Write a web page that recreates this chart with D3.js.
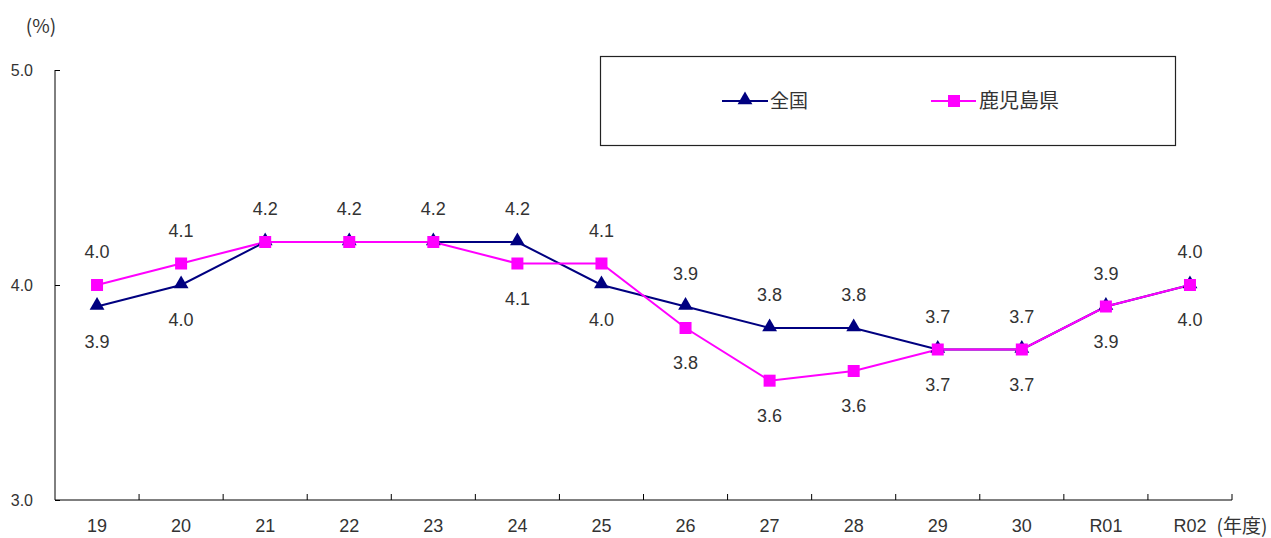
<!DOCTYPE html>
<html>
<head>
<meta charset="utf-8">
<script src="https://cdn.jsdelivr.net/npm/d3@7"></script>
<style>
  body { margin: 0; background: #fff; }
  text { font-family: "Noto Sans CJK JP", "DejaVu Sans", sans-serif; fill: #333; }
</style>
</head>
<body>
<div id="chart"></div>
<script>
// data
var years = ["19", "20", "21", "22", "23", "24", "25", "26", "27", "28", "29", "30", "R01", "R02"];
var zenkoku = [3.9, 4.0, 4.2, 4.2, 4.2, 4.2, 4.0, 3.9, 3.8, 3.8, 3.7, 3.7, 3.9, 4.0];
var kagoshima = [4.0, 4.1, 4.2, 4.2, 4.2, 4.1, 4.1, 3.8, 3.555, 3.6, 3.7, 3.7, 3.9, 4.0];
// where each data label sits: a = above, b = below, n = not shown (same spot as the other line)
var zenkokuPos = ["b", "b", "a", "a", "a", "a", "b", "a", "a", "a", "a", "a", "a", "a"];
var kagoshimaPos = ["a", "a", "n", "n", "n", "b", "a", "b", "b", "b", "b", "b", "b", "b"];
var yTicks = [3.0, 4.0, 5.0];

var width = 1271, height = 538;
// plot area edges (note: "top" is taken by window.top)
var plotL = 55, plotR = 1232, plotT = 70, plotB = 500;

var svg = d3.select("#chart").append("svg")
    .attr("width", width)
    .attr("height", height);

var xScale = d3.scaleBand().domain(years).range([plotL, plotR]);
var yScale = d3.scaleLinear().domain([3, 5]).range([plotB, plotT]);
function cx(d, i) { return xScale(years[i]) + xScale.bandwidth() / 2; }

// y axis, ticks pointing inward
var yAxis = d3.axisRight(yScale).tickValues(yTicks).tickSize(5).tickFormat(d3.format(".1f"));
var yG = svg.append("g").attr("transform", "translate(" + plotL + ",0)").call(yAxis);
yG.select(".domain").attr("d", "M0," + plotT + "V" + plotB).attr("stroke", "#000");
yG.selectAll(".tick line").attr("stroke", "#000");
yG.selectAll(".tick text")
    .attr("x", -22).attr("text-anchor", "end").attr("dy", "0.35em")
    .style("font-size", "16px").style("font-family", "'Liberation Sans', sans-serif");

svg.append("text").attr("x", 41).attr("y", 33).attr("text-anchor", "middle")
    .style("font-size", "19px").text("(%)");

// x axis, ticks at category boundaries pointing up
svg.append("line").attr("x1", plotL).attr("x2", plotR).attr("y1", plotB).attr("y2", plotB)
    .attr("stroke", "#000");
svg.selectAll(".xtick").data(years).enter().append("line")
    .attr("x1", function(d, i) { return plotL + xScale.bandwidth() * (i + 1); })
    .attr("x2", function(d, i) { return plotL + xScale.bandwidth() * (i + 1); })
    .attr("y1", plotB).attr("y2", plotB - 6)
    .attr("stroke", "#000");
svg.selectAll(".xlab").data(years).enter().append("text")
    .attr("x", function(d) { return xScale(d) + xScale.bandwidth() / 2; })
    .attr("y", 532)
    .attr("text-anchor", "middle")
    .style("font-size", "18px")
    .style("font-family", "'Liberation Sans', sans-serif")
    .text(function(d) { return d; });
svg.append("text").attr("x", 1242).attr("y", 533).attr("text-anchor", "middle")
    .style("font-size", "19px").text("(年度)");

var line = d3.line()
    .x(function(d, i) { return cx(d, i); })
    .y(function(d) { return yScale(d); });

var navy = "#000080", pink = "#ff00ff";

svg.append("path").datum(zenkoku).attr("d", line)
    .attr("fill", "none").attr("stroke", navy).attr("stroke-width", 2);
svg.append("path").datum(kagoshima).attr("d", line)
    .attr("fill", "none").attr("stroke", pink).attr("stroke-width", 2);

var tri = d3.symbol().type(d3.symbolTriangle).size(95);
svg.selectAll(".tri").data(zenkoku).enter().append("path")
    .attr("d", tri)
    .attr("transform", function(d, i) { return "translate(" + cx(d, i) + "," + (yScale(d) - 1) + ")"; })
    .attr("fill", navy);

svg.selectAll(".sq").data(kagoshima).enter().append("rect")
    .attr("x", function(d, i) { return cx(d, i) - 6; })
    .attr("y", function(d) { return yScale(d) - 6; })
    .attr("width", 12).attr("height", 12)
    .attr("fill", pink);

// data labels, one per point unless it would sit on the other line's label
function drawLabels(vals, pos) {
  vals.forEach(function(v, i) {
    if (pos[i] === "n") return;
    svg.append("text")
      .datum(v)
      .attr("x", cx(v, i))
      .attr("y", yScale(v) + (pos[i] === "a" ? -33 : 35))
      .attr("dy", "0.35em")
      .attr("text-anchor", "middle")
      .style("font-size", "18px")
      .style("font-family", "'Liberation Sans', sans-serif")
      .text(d3.format(".1f")(v));
  });
}
drawLabels(zenkoku, zenkokuPos);
drawLabels(kagoshima, kagoshimaPos);

// legend
svg.append("rect").attr("x", 600.5).attr("y", 56.5).attr("width", 575).attr("height", 89)
    .attr("fill", "none").attr("stroke", "#222").attr("stroke-width", 1.2);
var lg = svg.append("g");
lg.append("line").attr("x1", 722).attr("x2", 768).attr("y1", 101).attr("y2", 101)
    .attr("stroke", navy).attr("stroke-width", 2);
lg.append("path").attr("d", tri).attr("transform", "translate(745,100)").attr("fill", navy);
lg.append("text").attr("x", 770).attr("y", 101).attr("dy", "0.35em")
    .style("font-size", "19px").text("全国");
lg.append("line").attr("x1", 931).attr("x2", 976).attr("y1", 101).attr("y2", 101)
    .attr("stroke", pink).attr("stroke-width", 2);
lg.append("rect").attr("x", 948).attr("y", 95).attr("width", 12).attr("height", 12).attr("fill", pink);
lg.append("text").attr("x", 979).attr("y", 101).attr("dy", "0.35em")
    .style("font-size", "20px").text("鹿児島県");
</script>
</body>
</html>
